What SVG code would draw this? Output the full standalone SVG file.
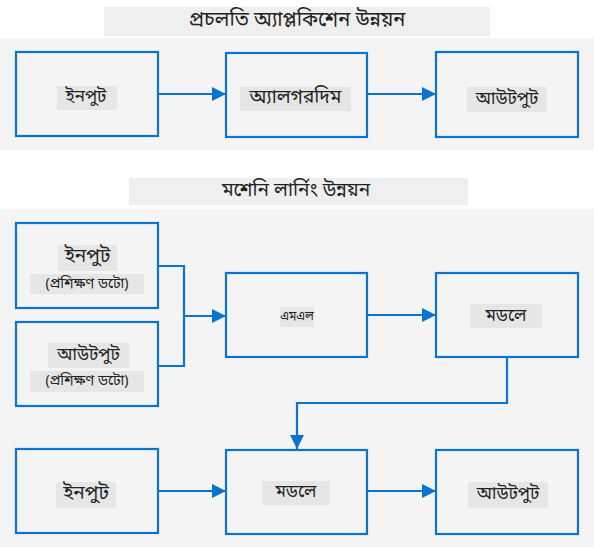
<svg xmlns="http://www.w3.org/2000/svg" width="594" height="547" viewBox="0 0 594 547">
<style>
.panel{fill:#f4f4f4}
.band{fill:#efefef}
.box{fill:none;stroke:#0a74d0;stroke-width:2.2}
.lbg{fill:#e6e6e6}
text{font-family:"Noto Sans Bengali","Noto Sans","Noto Sans CJK SC",sans-serif;font-weight:400;fill:#222222;text-anchor:middle;dominant-baseline:central}
.t1{font-size:20px}
.t2{font-size:19px}
.l{font-size:17px}
.la{font-size:19px}
.lb{font-size:19px}
.s{font-size:14px}
.xs{font-size:12px}
.m{font-size:17px}
.c{fill:none;stroke:#0a74d0;stroke-width:2.2}
</style>
<defs>
<marker id="ah" viewBox="0 0 10 10" refX="10" refY="5" markerWidth="6.5" markerHeight="6.5" markerUnits="strokeWidth" orient="auto">
<path d="M0,0 L10,5 L0,10 Z" fill="#0a74d0"/>
</marker>
</defs>
<rect width="594" height="547" fill="#ffffff"/>
<rect class="panel" x="0" y="38" width="594" height="112"/>
<rect class="panel" x="0" y="209" width="594" height="338"/>

<g id="title1">
<rect class="band" x="104" y="7" width="386" height="29"/>
<text class="t1" x="297" y="21">প্রচলতি অ্যাপ্লকিশেন উন্নয়ন</text>
</g>
<g id="title2">
<rect class="band" x="129" y="178" width="339" height="27"/>
<text class="t2" x="296" y="191">মশেনি লার্নিং উন্নয়ন</text>
</g>

<g id="connectors">
<path class="c" d="M158,94 H226" marker-end="url(#ah)"/>
<path class="c" d="M367,94 H436" marker-end="url(#ah)"/>
<path class="c" d="M158,266 H184 V366 H158"/>
<path class="c" d="M184,316 H226" marker-end="url(#ah)"/>
<path class="c" d="M367,315 H436" marker-end="url(#ah)"/>
<path class="c" d="M507,357 V403 H297 V449" marker-end="url(#ah)"/>
<path class="c" d="M158,491 H226" marker-end="url(#ah)"/>
<path class="c" d="M367,491 H436" marker-end="url(#ah)"/>
</g>

<g id="n-input1">
<rect class="box" x="16" y="52" width="142" height="84"/>
<rect class="lbg" x="57" y="86" width="60" height="24"/>
<text class="l" x="86" y="97">ইনপুট</text>
</g>
<g id="n-algo">
<rect class="box" x="226" y="53" width="141" height="84"/>
<rect class="lbg" x="240" y="87" width="111" height="24"/>
<text class="la" x="295.5" y="98">অ্যালগরদিম</text>
</g>
<g id="n-output1">
<rect class="box" x="436" y="52" width="142" height="85"/>
<rect class="lbg" x="467" y="87" width="80" height="25"/>
<text class="l" x="507" y="99">আউটপুট</text>
</g>

<g id="n-input2">
<rect class="box" x="16" y="223" width="142" height="85"/>
<rect class="lbg" x="58" y="245" width="59" height="26"/>
<text class="lb" x="87.5" y="257">ইনপুট</text>
<rect class="lbg" x="30" y="274" width="114" height="20"/>
<text class="s" x="87" y="284">(প্রশিক্ষণ ডটো)</text>
</g>
<g id="n-output2">
<rect class="box" x="16" y="322" width="142" height="84"/>
<rect class="lbg" x="48" y="343" width="81" height="25"/>
<text class="l" x="88.5" y="355">আউটপুট</text>
<rect class="lbg" x="30" y="371" width="114" height="21"/>
<text class="s" x="87" y="381">(প্রশিক্ষণ ডটো)</text>
</g>
<g id="n-ml">
<rect class="box" x="226" y="273" width="141" height="84"/>
<rect class="lbg" x="280" y="307" width="34" height="20"/>
<text class="xs" x="297" y="317">এমএল</text>
</g>
<g id="n-model1">
<rect class="box" x="436" y="273" width="142" height="84"/>
<rect class="lbg" x="470" y="304" width="72" height="24"/>
<text class="m" x="506" y="316">মডলে</text>
</g>

<g id="n-input3">
<rect class="box" x="16" y="449" width="142" height="84"/>
<rect class="lbg" x="56" y="482" width="60" height="26"/>
<text class="lb" x="86" y="494">ইনপুট</text>
</g>
<g id="n-model2">
<rect class="box" x="226" y="450" width="141" height="84"/>
<rect class="lbg" x="262" y="481" width="68" height="24"/>
<text class="m" x="296" y="492">মডলে</text>
</g>
<g id="n-output3">
<rect class="box" x="436" y="450" width="142" height="84"/>
<rect class="lbg" x="468" y="482" width="80" height="26"/>
<text class="l" x="508" y="494">আউটপুট</text>
</g>
</svg>
